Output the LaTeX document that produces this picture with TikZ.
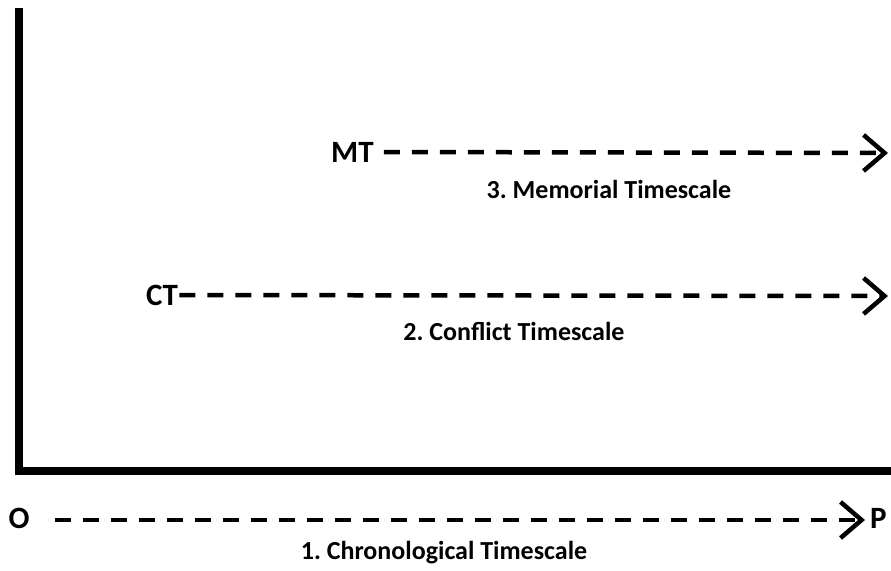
\documentclass[tikz,border=0pt]{standalone}
\usepackage{fontspec}
\setmainfont{Carlito}
\usetikzlibrary{arrows.meta}
\frenchspacing
\begin{document}
\begin{tikzpicture}[x=1pt,y=-1pt,
  big/.style={inner sep=0pt,font=\bfseries\fontsize{31}{31}\selectfont},
  sub/.style={inner sep=0pt,font=\bfseries\fontsize{26}{26}\selectfont},
  axisline/.style={line width=8pt,line join=miter,line cap=butt},
  dashl/.style={line width=4.5pt,dash pattern=on 16pt off 12pt,
    -{Straight Barb[length=21pt,width=36pt,line width=4.5pt]}}]
\useasboundingbox (0,0) rectangle (891,570);
% axes
\coordinate (top) at (19,8);
\coordinate (corner) at (19,471);
\coordinate (right) at (891,471);
\draw[axisline] (top) -- (corner) -- (right);
% memorial
\node[big,anchor=west] (MT) at (331,152) {MT};
\coordinate (mtend) at (888,153);
\draw[dashl] ([xshift=10pt]MT.east) -- (mtend);
\node[sub] (l3) at (609,189) {3. Memorial Timescale};
% conflict
\node[big,anchor=west] (CT) at (146,295) {CT};
\coordinate (ctend) at (888,296);
\draw[dashl] ([xshift=1pt]CT.east) -- (ctend);
\node[sub] (l2) at (514,331) {2. Conflict Timescale};
% chronological
\node[big] (O) at (19,518) {O};
\node[big,anchor=west] (P) at (870,518) {P};
\coordinate (ostart) at (55,520);
\coordinate (pend) at (865,520);
\draw[dashl] (ostart) -- (pend);
\node[sub] (l1) at (444,553) {1. Chronological Timescale};
\end{tikzpicture}
\end{document}
